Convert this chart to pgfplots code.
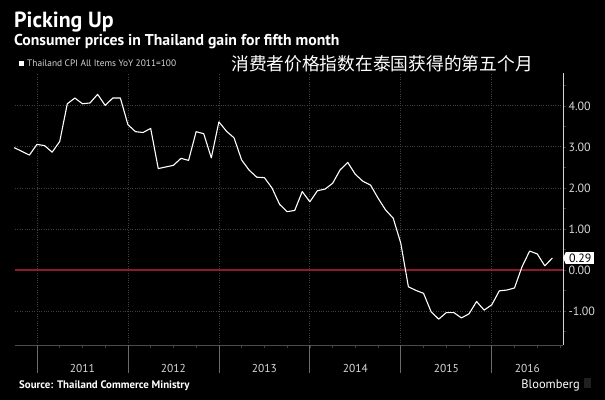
\documentclass[border=0pt]{standalone}
\usepackage{pgfplots}
\pgfplotsset{compat=1.18}
\usepackage{fontspec}
\setmainfont{PT Sans}
\newfontfamily\cjk{Noto Sans CJK SC}
\definecolor{zred}{HTML}{8C1A2C}
\definecolor{gridc}{HTML}{404040}
\definecolor{tickc}{HTML}{D6D6D6}
\definecolor{sepc}{HTML}{6A6A6A}
\begin{document}
\begin{tikzpicture}
\fill[black] (-15bp,-55bp) rectangle (590bp,345bp);
\begin{axis}[
  at={(0,0)}, anchor=south west,
  scale only axis, width=548bp, height=272bp,
  xmin=-2.9, xmax=69.4, ymin=-1.83, ymax=4.80,
  clip=false,
  axis x line*=bottom, axis y line*=right,
  x axis line style={draw=sepc!120, line width=0.8bp, -},
  y axis line style={draw=tickc, line width=0.8bp, -},
  xtick={0,12,...,60}, xticklabels={},
  minor xtick={3,6,9,15,18,21,27,30,33,39,42,45,51,54,57,63,66,69},
  ytick={-1,0,1,2,3,4},
  minor ytick={-1.5,-0.5,0.5,1.5,2.5,3.5,4.5},
  tick align=outside,
  major tick length=3bp, minor tick length=2.5bp,
  tick style={draw=sepc!130, line width=0.6bp},
  xmajorgrids, ymajorgrids,
  major grid style={dotted, draw=gridc, line width=0.7bp},
  yticklabel style={font=\fontsize{12}{12}\selectfont, text=tickc, anchor=west, xshift=-1bp},
  /pgf/number format/.cd, fixed, fixed zerofill, precision=2, assume math mode=true,
]
\addplot[zred, line width=2bp] coordinates {(-2.9,0) (69.4,0)};
\addplot[white, line width=1.1bp, line join=round] coordinates {
(-3,2.98)(-2,2.89)(-1,2.80)(0,3.06)(1,3.03)(2,2.87)(3,3.13)(4,4.05)(5,4.19)(6,4.05)(7,4.07)(8,4.28)(9,4.01)(10,4.19)(11,4.19)
(12,3.54)(13,3.37)(14,3.35)(15,3.45)(16,2.47)(17,2.51)(18,2.55)(19,2.72)(20,2.67)(21,3.37)(22,3.32)(23,2.73)
(24,3.61)(25,3.38)(26,3.22)(27,2.68)(28,2.43)(29,2.26)(30,2.25)(31,2.00)(32,1.60)(33,1.42)(34,1.45)(35,1.91)
(36,1.66)(37,1.93)(38,1.97)(39,2.11)(40,2.44)(41,2.62)(42,2.33)(43,2.16)(44,2.07)(45,1.75)(46,1.46)(47,1.26)
(48,0.65)(49,-0.41)(50,-0.50)(51,-0.57)(52,-1.02)(53,-1.20)(54,-1.04)(55,-1.04)(56,-1.17)(57,-1.07)(58,-0.77)(59,-0.98)
(60,-0.85)(61,-0.51)(62,-0.49)(63,-0.44)(64,0.08)(65,0.46)(66,0.39)(67,0.10)(68,0.29)};
\pgfplotsinvokeforeach{0,12,24,36,48,60}{
  \draw[sepc, line width=0.7bp] (axis cs:#1,-1.83) -- ++(0pt,-28bp);
}
\node[text=tickc, font=\fontsize{11.5}{11.5}\selectfont] at (axis cs:6,-1.83) [yshift=-23bp] {2011};
\node[text=tickc, font=\fontsize{11.5}{11.5}\selectfont] at (axis cs:18,-1.83) [yshift=-23bp] {2012};
\node[text=tickc, font=\fontsize{11.5}{11.5}\selectfont] at (axis cs:30,-1.83) [yshift=-23bp] {2013};
\node[text=tickc, font=\fontsize{11.5}{11.5}\selectfont] at (axis cs:42,-1.83) [yshift=-23bp] {2014};
\node[text=tickc, font=\fontsize{11.5}{11.5}\selectfont] at (axis cs:54,-1.83) [yshift=-23bp] {2015};
\node[text=tickc, font=\fontsize{11.5}{11.5}\selectfont] at (axis cs:64.7,-1.83) [yshift=-23bp] {2016};
\node[fill=white, text=black, anchor=west, inner xsep=3bp, inner ysep=1.8bp, font=\fontsize{12}{12}\selectfont] (lbl) at (axis cs:69.4,0.29) [xshift=3bp] {0.29};
\fill[white] (lbl.north west) -- ([xshift=-3bp]lbl.west) -- (lbl.south west) -- cycle;
\end{axis}
\node[anchor=base west, text=white, inner sep=0, font=\bfseries\fontsize{22}{22}\selectfont] at (-1bp,317bp) {Picking Up};
\node[anchor=base west, text=white, inner sep=0, font=\bfseries\fontsize{15.8}{15.8}\selectfont] at (-1bp,299bp) {Consumer prices in Thailand gain for fifth month};
\fill[white] (4bp,279bp) rectangle (9bp,284bp);
\node[anchor=base west, text=tickc, inner sep=0, font=\fontsize{9.4}{9.4}\selectfont] at (12bp,278.5bp) {Thailand CPI All Items YoY 2011=100};
\node[text=white, inner sep=0, font=\cjk\fontsize{17.8}{17.8}\selectfont] at (367bp,281bp) {消费者价格指数在泰国获得的第五个月};
\node[anchor=base west, text=white, inner sep=0, font=\bfseries\fontsize{10.9}{10.9}\selectfont] at (4bp,-43bp) {Source: Thailand Commerce Ministry};
\node[anchor=base east, text=white, inner sep=0, font=\fontsize{12.5}{12.5}\selectfont] at (565bp,-43bp) {Bloomberg};
\fill[sepc!150] (569bp,-43bp) rectangle (576bp,-33bp);
\end{tikzpicture}
\end{document}
